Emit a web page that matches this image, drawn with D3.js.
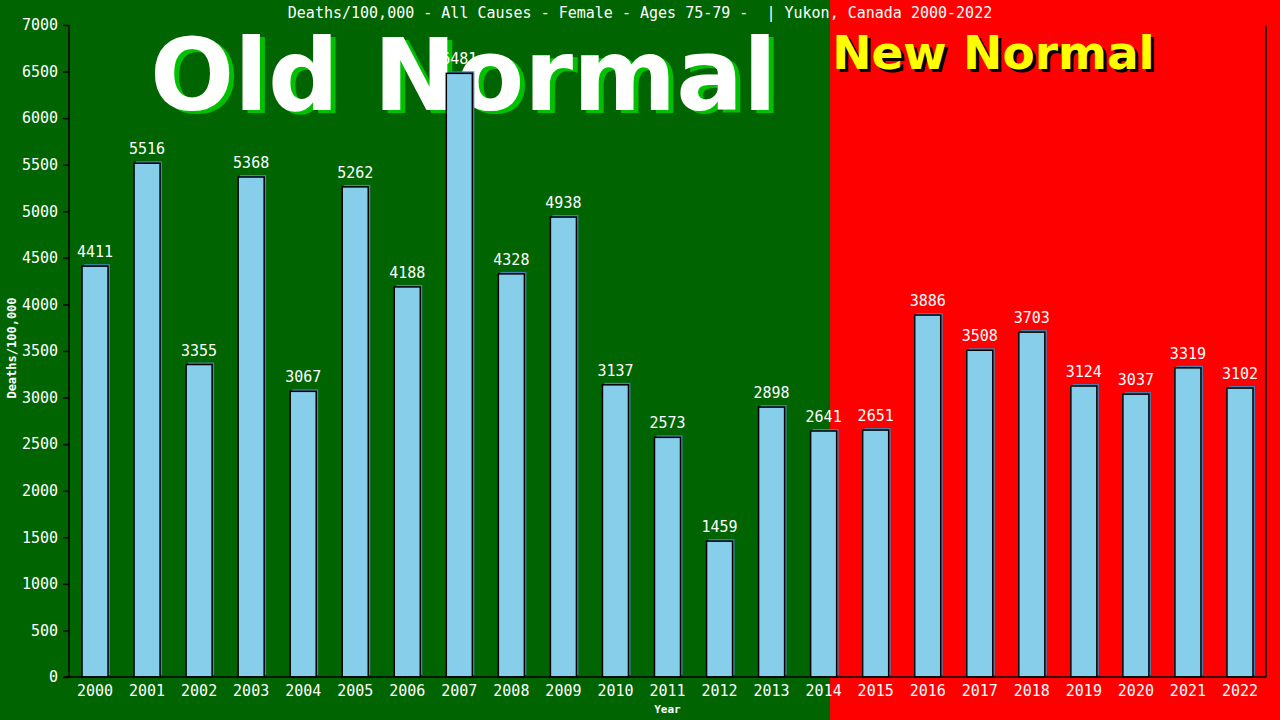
<!DOCTYPE html>
<html>
<head>
<meta charset="utf-8">
<script src="https://cdn.jsdelivr.net/npm/d3@7"></script>
<style>
  body { margin: 0; background: #006400; }
  svg { display: block; }
</style>
</head>
<body>
<svg></svg>
<script>
const years = ["2000", "2001", "2002", "2003", "2004", "2005", "2006", "2007", "2008", "2009", "2010", "2011",
  "2012", "2013", "2014", "2015", "2016", "2017", "2018", "2019", "2020", "2021", "2022"];
const deaths = [4411, 5516, 3355, 5368, 3067, 5262, 4188, 6481, 4328, 4938, 3137, 2573,
  1459, 2898, 2641, 2651, 3886, 3508, 3703, 3124, 3037, 3319, 3102];
const yTicks = [0, 500, 1000, 1500, 2000, 2500, 3000, 3500, 4000, 4500, 5000, 5500, 6000, 6500, 7000];
const title = "Deaths/100,000 - All Causes - Female - Ages 75-79 -  | Yukon, Canada 2000-2022";

const width = 1280;
const height = 720;
const margin = { top: 25, right: 14, bottom: 43, left: 69 };
const mono = "'DejaVu Sans Mono', monospace";

const svg = d3.select("svg").attr("width", width).attr("height", height);

const x = d3.scaleBand()
  .domain(years)
  .range([margin.left, width - margin.right])
  .paddingInner(0.5)
  .paddingOuter(0.25);

const y = d3.scaleLinear()
  .domain([0, 7000])
  .range([height - margin.bottom, margin.top]);

// fond vert / rouge
const split = x("2014") + x.bandwidth() * 0.75;
svg.append("rect").attr("width", width).attr("height", height).attr("fill", "#006400");
svg.append("rect").attr("x", split).attr("width", width - split).attr("height", height).attr("fill", "#ff0000");

// gros textes
svg.append("text")
  .attr("x", 155).attr("y", 113)
  .attr("font-family", "'DejaVu Sans', sans-serif")
  .attr("font-weight", "bold").attr("font-size", 99)
  .attr("fill", "#00c000")
  .text("Old Normal");
svg.append("text")
  .attr("x", 150).attr("y", 110)
  .attr("font-family", "'DejaVu Sans', sans-serif")
  .attr("font-weight", "bold").attr("font-size", 99)
  .attr("fill", "white")
  .text("Old Normal");

svg.append("text")
  .attr("x", split + 5).attr("y", 72)
  .attr("font-family", "'DejaVu Sans', sans-serif")
  .attr("font-weight", "bold").attr("font-size", 47)
  .attr("fill", "black")
  .text("New Normal");
svg.append("text")
  .attr("x", split + 2).attr("y", 69)
  .attr("font-family", "'DejaVu Sans', sans-serif")
  .attr("font-weight", "bold").attr("font-size", 47)
  .attr("fill", "yellow")
  .text("New Normal");

// titre
svg.append("text")
  .attr("x", 640).attr("y", 18)
  .attr("text-anchor", "middle")
  .attr("font-family", mono).attr("font-size", 15)
  .attr("fill", "white")
  .style("white-space", "pre")
  .text(title);

// barres (ombre puis barre)
svg.append("g")
  .selectAll("rect")
  .data(deaths)
  .join("rect")
  .attr("x", (d, i) => x(years[i]) + 2)
  .attr("y", (d) => y(d) - 2)
  .attr("width", x.bandwidth())
  .attr("height", (d) => y(0) - y(d))
  .attr("fill", "#4682b4");

svg.append("g")
  .selectAll("rect")
  .data(deaths)
  .join("rect")
  .attr("x", (d, i) => x(years[i]))
  .attr("y", (d) => y(d))
  .attr("width", x.bandwidth())
  .attr("height", (d) => y(0) - y(d))
  .attr("fill", "#87ceeb")
  .attr("stroke", "black")
  .attr("stroke-width", 1.5);

// valeurs
svg.append("g")
  .selectAll("text")
  .data(deaths)
  .join("text")
  .attr("x", (d, i) => x(years[i]) + x.bandwidth() / 2)
  .attr("y", (d) => y(d) - 9)
  .attr("text-anchor", "middle")
  .attr("font-family", mono).attr("font-size", 15)
  .attr("fill", "white")
  .text((d) => d);

// axes
const yAxis = svg.append("g")
  .attr("transform", `translate(${margin.left}, 0)`)
  .call(d3.axisLeft(y).tickValues(yTicks).tickFormat(d3.format("d")).tickSize(6).tickPadding(5));
const xAxis = svg.append("g")
  .attr("transform", `translate(0, ${height - margin.bottom})`)
  .call(d3.axisBottom(x).tickSize(0).tickPadding(8));
xAxis.select(".domain").attr("d", `M${margin.left - 5},0H${width - margin.right}`);
yAxis.select(".domain").attr("d", `M0,${y(7000)}V${y(0)}`);

[xAxis, yAxis].forEach((a) => {
  a.selectAll("path, line").attr("stroke", "black").attr("stroke-width", 1.5);
  a.selectAll("text")
    .attr("fill", "white")
    .attr("font-family", mono)
    .attr("font-size", 15);
});

svg.append("line")
  .attr("x1", width - margin.right).attr("x2", width - margin.right)
  .attr("y1", y(7000)).attr("y2", y(0))
  .attr("stroke", "black").attr("stroke-width", 1.5);

// titres des axes
svg.append("text")
  .attr("transform", `translate(16, ${(y(0) + y(7000)) / 2 - 3}) rotate(-90)`)
  .attr("text-anchor", "middle")
  .attr("font-family", mono).attr("font-weight", "bold").attr("font-size", 12)
  .attr("fill", "white")
  .text("Deaths/100,000");

svg.append("text")
  .attr("x", (margin.left + width - margin.right) / 2).attr("y", 713)
  .attr("text-anchor", "middle")
  .attr("font-family", mono).attr("font-weight", "bold").attr("font-size", 11)
  .attr("fill", "white")
  .text("Year");
</script>
</body>
</html>
